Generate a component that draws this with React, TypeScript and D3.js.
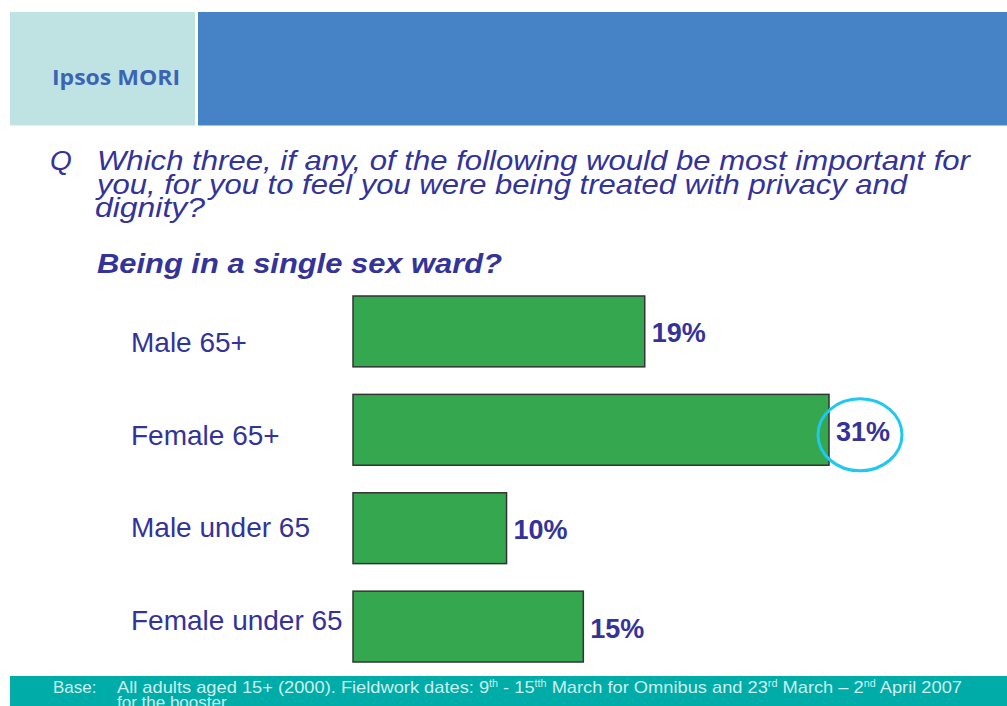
import * as d3 from "d3";

const categories = ["Male 65+", "Female 65+", "Male under 65", "Female under 65"];
const values = [19, 31, 10, 15];
const highlighted = "Female 65+";

const questionLines = [
  "Which three, if any, of the following would be most important for",
  "you, for you to feel you were being treated with privacy and",
  "dignity?",
];
const subtitle = "Being in a single sex ward?";

const W = 1007;
const H = 706;
const blue = "#333399";

const App = () => {
  const x = d3.scaleLinear().domain([0, 31]).range([353, 829]);
  const y = d3.scaleBand().domain(categories).range([296, 662]).paddingInner(0.28).paddingOuter(0);
  // category labels sit a little off the bar centres in the original
  const labelY = d3.scalePoint().domain(categories).range([352, 630]);

  return (
    <svg width={W} height={H} style={{ position: "absolute", left: 0, top: 0, display: "block" }}>
      <rect x={0} y={0} width={W} height={H} fill="#fff" />
      {/* header */}
      <rect x={10} y={12} width={185} height={113.5} fill="#bfe3e3" />
      <rect x={198} y={12} width={W - 198} height={113.5} fill="#4682c6" />
      <text x={52} y={85} fontFamily="Open Sans, sans-serif" fontWeight="bold" fontSize={21}
        fill="#3c64b4" textLength={128} lengthAdjust="spacingAndGlyphs">Ipsos MORI</text>

      {/* question */}
      <g fontFamily="Liberation Sans, Arial, sans-serif" fontStyle="italic" fontSize={28} fill={blue}>
        <text x={50} y={170}>Q</text>
        <text x={97} y={170} textLength={873} lengthAdjust="spacingAndGlyphs">{questionLines[0]}</text>
        <text x={97} y={194} textLength={810} lengthAdjust="spacingAndGlyphs">{questionLines[1]}</text>
        <text x={95} y={217} textLength={110} lengthAdjust="spacingAndGlyphs">{questionLines[2]}</text>
      </g>
      <text x={97} y={273} fontFamily="Liberation Sans, Arial, sans-serif" fontStyle="italic" fontWeight="bold"
        fontSize={28} fill={blue} textLength={405} lengthAdjust="spacingAndGlyphs">{subtitle}</text>

      {/* bars */}
      {categories.map((c, i) => (
        <g key={c}>
          <text x={131} y={labelY(c)} fontFamily="Liberation Sans, Arial, sans-serif" fontSize={28} fill={blue}>{c}</text>
          <rect x={x(0)} y={y(c)} width={x(values[i]) - x(0)} height={y.bandwidth()}
            fill="#35a84f" stroke="#333" strokeWidth={1.5} />
          <text x={x(values[i]) + 7} y={(y(c) as number) + y.bandwidth() / 2 + 11}
            fontFamily="Liberation Sans, Arial, sans-serif" fontWeight="bold" fontSize={27} fill={blue}>
            {values[i]}%
          </text>
          {c === highlighted && (
            <ellipse cx={x(values[i]) + 31} cy={(y(c) as number) + y.bandwidth() / 2 + 5}
              rx={42} ry={36} fill="none" stroke="#1ec8f0" strokeWidth={3} />
          )}
        </g>
      ))}

      {/* footer */}
      <rect x={10} y={676} width={W - 10} height={H - 676} fill="#00aca7" />
      <g fontFamily="Liberation Sans Narrow, Liberation Sans, Arial, sans-serif" fontSize={17} fill="#cdeeee">
        <text x={53} y={693}>Base:</text>
        <text x={117} y={693} textLength={845} lengthAdjust="spacingAndGlyphs">
          All adults aged 15+ (2000).  Fieldwork dates: 9<tspan fontSize={10} dy={-6}>th</tspan>
          <tspan dy={6}> - 15</tspan><tspan fontSize={10} dy={-6}>tth</tspan>
          <tspan dy={6}> March for Omnibus and 23</tspan><tspan fontSize={10} dy={-6}>rd</tspan>
          <tspan dy={6}> March – 2</tspan><tspan fontSize={10} dy={-6}>nd</tspan>
          <tspan dy={6}> April 2007</tspan>
        </text>
        <text x={117} y={708}>for the booster</text>
      </g>
    </svg>
  );
};

export default App;
